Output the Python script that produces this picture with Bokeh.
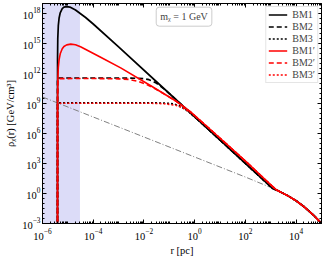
import numpy as np
from bokeh.plotting import figure
from bokeh.models import (LogAxis, FixedTicker, BoxAnnotation, Label, Legend,
                          LegendItem, Range1d)
from bokeh.embed import file_html
from bokeh.resources import INLINE

# radius r [pc] and log10 of density [GeV/cm^3]
r_bm1 = [3.9e-6, 3.92e-6, 4.0e-6, 4.2e-6, 4.5e-6, 5e-6, 6e-6, 7e-6, 9e-6, 1.2e-5,
         2e-5, 5e-5, 1e-4, 1e-3, 1e-1, 1e1, 1.15e3, 2e3, 5e3, 1e4, 2e4, 5e4, 1e5]
lg_bm1 = [-6, 13.41, 15.46, 16.78, 17.52, 18.07, 18.49, 18.64, 18.69, 18.64,
          18.35, 17.60, 16.95, 14.67, 10.00, 5.34, 0.53, 0.26, -0.26, -0.73, -1.30, -2.20, -2.98]

r_bm2 = [3.9e-6, 3.91e-6, 4.0e-6, 1e-3, 3.16e-3, 1e-2, 1.58e-2, 2.17e-2, 3.16e-2, 6.3e-2,
         1e-1, 3.16e-1, 1e1, 1.15e3, 2e3, 5e3, 1e4, 2e4, 5e4, 1e5]
lg_bm2 = [-6, 11.5, 11.55, 11.55, 11.545, 11.485, 11.38, 11.25, 11.02, 10.44,
          9.99, 8.84, 5.34, 0.53, 0.26, -0.26, -0.73, -1.30, -2.20, -2.98]

r_bm3 = [3.9e-6, 3.91e-6, 4.0e-6, 3.16e-2, 1e-1, 1.58e-1, 2.54e-1, 3.98e-1, 6.3e-1, 1.0,
         2.0, 1e1, 1.15e3, 2e3, 5e3, 1e4, 2e4, 5e4, 1e5]
lg_bm3 = [-6, 9.05, 9.06, 9.057, 9.014, 8.94, 8.76, 8.48, 8.09, 7.65,
          6.97, 5.34, 0.53, 0.26, -0.26, -0.73, -1.30, -2.20, -2.98]

r_bm1p = [3.9e-6, 3.92e-6, 4.0e-6, 4.2e-6, 4.5e-6, 5e-6, 6e-6, 7e-6, 9e-6, 1.3e-5,
          2e-5, 3.16e-5, 1.96e-4, 1.21e-3, 1.86e-2, 1.81e-1, 7.08e-1, 2.77, 1.09e1, 1.06e2,
          6.46e2, 1.62e3, 5e3, 1e4, 2e4, 5e4, 1e5]
lg_bm1p = [-6, 9.20, 11.26, 12.60, 13.37, 13.97, 14.47, 14.70, 14.86, 14.94,
           14.88, 14.68, 13.62, 12.56, 10.78, 9.25, 8.13, 6.80, 5.45, 3.18,
           1.31, 0.38, -0.26, -0.73, -1.30, -2.20, -2.98]

r_bm2p = [3.9e-6, 3.92e-6, 4.0e-6, 4.2e-6, 4.5e-6, 1e-4, 1e-3, 2.51e-3, 6.03e-3, 1e-2,
          1.86e-2, 3.98e-2, 1.81e-1, 7.08e-1, 2.77, 1.09e1, 1.06e2, 6.46e2, 1.62e3,
          5e3, 1e4, 2e4, 5e4, 1e5]
lg_bm2p = [-6, 9.2, 11.06, 11.47, 11.49, 11.497, 11.466, 11.41, 11.2, 11.01,
           10.71, 10.25, 9.24, 8.13, 6.80, 5.45, 3.18, 1.31, 0.38,
           -0.26, -0.73, -1.30, -2.20, -2.98]

r_bm3p = [3.9e-6, 3.92e-6, 4.0e-6, 1e-4, 1.86e-2, 6.3e-2, 1.81e-1, 3.55e-1, 7.08e-1, 1.41,
          2.77, 1.09e1, 1.06e2, 6.46e2, 1.62e3, 5e3, 1e4, 2e4, 5e4, 1e5]
lg_bm3p = [-6, 8.80, 9.027, 9.03, 9.022, 8.98, 8.82, 8.53, 8.08, 7.45,
           6.80, 5.45, 3.18, 1.31, 0.38, -0.26, -0.73, -1.30, -2.20, -2.98]

r_nfw = [1e-6, 1e-2, 1e2, 1e3, 2e3, 5e3, 1e4, 2e4, 5e4, 1e5]
lg_nfw = [9.65, 5.65, 1.645, 0.60, 0.26, -0.26, -0.73, -1.30, -2.20, -2.98]

band_left, band_right = 1e-6, 3e-5
x_major = [1e-6, 1e-4, 1e-2, 1e0, 1e2, 1e4]
y_major = [1e-3, 1e0, 1e3, 1e6, 1e9, 1e12, 1e15, 1e18]
labels = ["BM1", "BM2", "BM3", "BM1\u2032", "BM2\u2032", "BM3\u2032"]

FONT = "Liberation Serif"

def d(lg):
    return [10.0 ** v for v in lg]

p = figure(width=327, height=258, x_axis_type="log", y_axis_type="log",
           x_range=Range1d(1e-6, 1e5), y_range=Range1d(1e-3, 1e19),
           output_backend="svg", toolbar_location=None,
           min_border_left=42, min_border_right=6, min_border_top=3, min_border_bottom=31)
p.grid.visible = False
p.outline_line_color = "black"
p.outline_line_width = 1

x_minor = [m * 10.0 ** k for k in range(-6, 5) for m in range(1, 10)]
y_minor = [m * 10.0 ** k for k in range(-3, 19) for m in (1, 3)]
xt = FixedTicker(ticks=x_major, minor_ticks=x_minor)
yt = FixedTicker(ticks=y_major, minor_ticks=y_minor)

for ax in (p.xaxis[0], p.yaxis[0]):
    ax.major_tick_in = 4
    ax.major_tick_out = 0
    ax.minor_tick_in = 2
    ax.minor_tick_out = 0
    ax.axis_line_color = "black"
    ax.major_label_text_font = FONT
    ax.major_label_text_font_size = "10.5px"
    ax.major_label_text_color = "black"
    ax.axis_label_text_font = FONT
    ax.axis_label_text_font_size = "10.5px"
    ax.axis_label_text_font_style = "normal"
    ax.axis_label_text_color = "black"
p.xaxis[0].major_label_standoff = 5
p.xaxis[0].axis_label_standoff = 2
p.yaxis[0].major_label_standoff = 2
p.yaxis[0].axis_label_standoff = 3
p.xaxis[0].ticker = xt
p.yaxis[0].ticker = yt
p.xaxis[0].axis_label = "r [pc]"
p.yaxis[0].axis_label = "\u03c1\u1d6a(r) [GeV/cm\u00b3]"

top = LogAxis(ticker=xt, major_label_text_font_size="1px", major_label_text_alpha=0,
              major_label_standoff=0,
              major_tick_in=4, major_tick_out=0, minor_tick_in=2, minor_tick_out=0)
right = LogAxis(ticker=yt, major_label_text_font_size="1px", major_label_text_alpha=0,
                major_label_standoff=0,
                major_tick_in=4, major_tick_out=0, minor_tick_in=2, minor_tick_out=0)
p.add_layout(top, "above")
p.add_layout(right, "right")

p.add_layout(BoxAnnotation(left=band_left, right=band_right, fill_color="#dcdcf8",
                           fill_alpha=1.0, line_color=None, level="underlay"))

p.line(r_nfw, d(lg_nfw), line_color="gray", line_width=1, line_dash="6 2 1 2")

r1 = p.line(r_bm1, d(lg_bm1), line_color="black", line_width=1.7)
r2 = p.line(r_bm2, d(lg_bm2), line_color="black", line_width=1.7, line_dash="5 3")
r3 = p.line(r_bm3, d(lg_bm3), line_color="black", line_width=1.7, line_dash="2 2")
r4 = p.line(r_bm1p, d(lg_bm1p), line_color="red", line_width=1.6)
r5 = p.line(r_bm2p, d(lg_bm2p), line_color="red", line_width=1.6, line_dash="5 3")
r6 = p.line(r_bm3p, d(lg_bm3p), line_color="red", line_width=1.6, line_dash="2 2")

legend = Legend(items=[LegendItem(label=l, renderers=[r]) for l, r in
                       zip(labels, [r1, r2, r3, r4, r5, r6])],
                location="top_right", margin=3, padding=2, spacing=1,
                label_text_font=FONT, label_text_font_size="10px",
                label_height=11, glyph_height=11, glyph_width=19, label_standoff=5,
                border_line_color="#cccccc", background_fill_alpha=0.85)
p.add_layout(legend, "center")

p.add_layout(Label(x=10 ** -0.42, y=10 ** 17.68, text="m\u1d6a = 1 GeV", text_font=FONT,
                   text_font_size="10px", text_align="center", text_baseline="middle",
                   border_line_color="#cccccc", background_fill_color="white",
                   padding=4, border_radius=3))

open("out.html", "w").write(file_html(p, INLINE))
